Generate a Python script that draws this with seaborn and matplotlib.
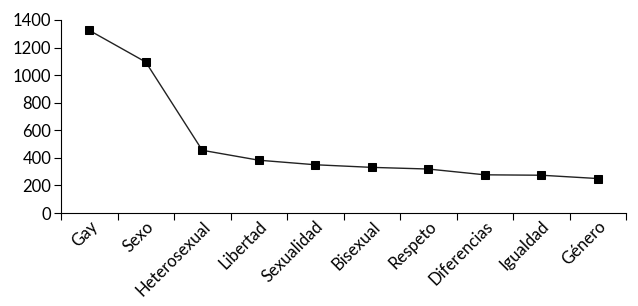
import matplotlib
matplotlib.use("Agg")
import matplotlib.pyplot as plt
import seaborn as sns
import pandas as pd
import numpy as np

categories = ["Gay", "Sexo", "Heterosexual", "Libertad", "Sexualidad",
              "Bisexual", "Respeto", "Diferencias", "Igualdad", "Género"]
values = [1325, 1095, 455, 383, 350, 331, 319, 277, 274, 250]
yticks = [0, 200, 400, 600, 800, 1000, 1200, 1400]

sns.set_style("white")
plt.rcParams['font.family'] = ['Lato', 'DejaVu Sans']
plt.rcParams['text.color'] = 'black'
plt.rcParams['xtick.color'] = 'black'
plt.rcParams['ytick.color'] = 'black'

df = pd.DataFrame({"cat": categories, "val": values})
df["pos"] = np.arange(len(categories))

fig = plt.figure(figsize=(6.38, 3.06), dpi=100)
ax = fig.add_axes([61/638, 1-213/306, (626-61)/638, (213-20)/306])

sns.lineplot(data=df, x="pos", y="val", sort=False, ax=ax, color="#222222",
             linewidth=1.0, marker="s", markersize=6, markerfacecolor="black",
             markeredgecolor="black")

ax.set_xlim(-0.5, len(categories) - 0.5)
ax.set_ylim(0, 1400)
ax.set_yticks(yticks)
ax.set_yticklabels([str(v) for v in yticks], fontsize=12)
ax.set_xticks(np.arange(len(categories)))
ax.set_xticklabels(categories, rotation=45, ha="right", va="top",
                   rotation_mode="anchor", fontsize=12)
ax.set_xticks(np.arange(-0.5, len(categories)), minor=True)
ax.tick_params(axis="x", which="major", length=0, pad=4)
ax.tick_params(axis="x", which="minor", length=5, width=0.8, color="black", direction="out", bottom=True)
ax.tick_params(axis="y", length=5, width=0.8, color="black", direction="out", left=True, pad=2)
ax.set_xlabel("")
ax.set_ylabel("")
for s in ["top", "right"]:
    ax.spines[s].set_visible(False)
for s in ["left", "bottom"]:
    ax.spines[s].set_color("black")
    ax.spines[s].set_linewidth(0.8)
ax.grid(False)

fig.savefig("out.png", dpi=100)
